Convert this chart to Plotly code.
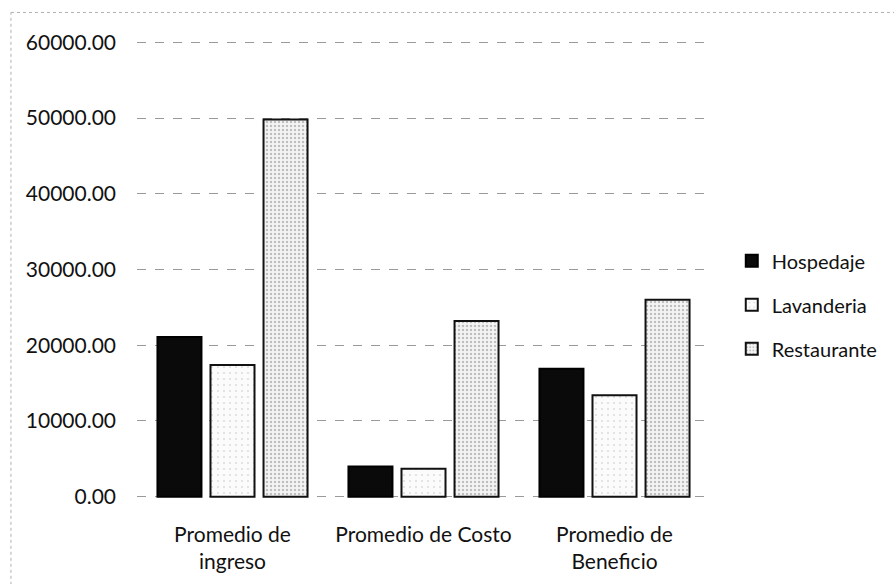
import plotly.graph_objects as go

categories = ["Promedio de<br>ingreso", "Promedio de Costo", "Promedio de<br>Beneficio"]
hospedaje = [21100, 4000, 16900]
lavanderia = [17400, 3700, 13400]
restaurante = [49800, 23200, 26000]
y_ticks = [0, 10000, 20000, 30000, 40000, 50000, 60000]

FONT = "Lato, 'Open Sans', sans-serif"

fig = go.Figure()
fig.add_trace(go.Bar(
    name="Hospedaje", x=categories, y=hospedaje, legendgroup="h",
    marker=dict(color="#0a0a0a", line=dict(color="#000000", width=2)),
))
fig.add_trace(go.Bar(
    name="Lavanderia", x=categories, y=lavanderia, legendgroup="l",
    marker=dict(color="#fbfbfb", line=dict(color="#111111", width=2),
                pattern=dict(shape=".", fgcolor="#bdbdbd", bgcolor="#fbfbfb",
                             size=6, solidity=0.1)),
))
fig.add_trace(go.Bar(
    name="Restaurante", x=categories, y=restaurante, legendgroup="r",
    marker=dict(color="#eeeeee", line=dict(color="#111111", width=2),
                pattern=dict(shape=".", fgcolor="#8a8a8a", bgcolor="#f4f4f4",
                             size=4, solidity=0.3)),
))

fig.update_layout(
    width=894, height=584,
    barmode="group", bargap=0.167, bargroupgap=0.17,
    paper_bgcolor="white", plot_bgcolor="white",
    margin=dict(l=137, r=184, t=40, b=85, autoexpand=False),
    font=dict(family=FONT, size=21, color="#111111"),
    showlegend=True,
    legend=dict(x=1.038, y=0.423, xanchor="left", yanchor="middle",
                font=dict(family=FONT, size=20, color="#111111"),
                tracegroupgap=15, itemsizing="constant"),
    xaxis=dict(showline=False, ticks="", tickfont=dict(family=FONT, size=21),
               showgrid=False, ticklabelstandoff=21, automargin=False),
    yaxis=dict(range=[-300, 60300], tickvals=y_ticks,
               ticktext=[f"{v:.2f}" for v in y_ticks],
               showgrid=True, gridcolor="#9a9a9a", griddash="dash", gridwidth=1,
               zeroline=False, showline=False, ticks="", automargin=False,
               tickfont=dict(family=FONT, size=21), ticklabelstandoff=20),
    shapes=[
        dict(type="line", xref="paper", yref="paper", x0=-0.22, x1=1.35,
             y0=1.06, y1=1.06, line=dict(color="#b0b0b0", width=1, dash="dot")),
        dict(type="line", xref="paper", yref="paper", x0=-0.22, x1=-0.22,
             y0=-0.2, y1=1.06, line=dict(color="#b0b0b0", width=1, dash="dot")),
    ],
)

fig.write_html("out.html", config={"displayModeBar": False},
               post_script="document.body.style.margin='0';document.body.style.overflow='hidden';")
